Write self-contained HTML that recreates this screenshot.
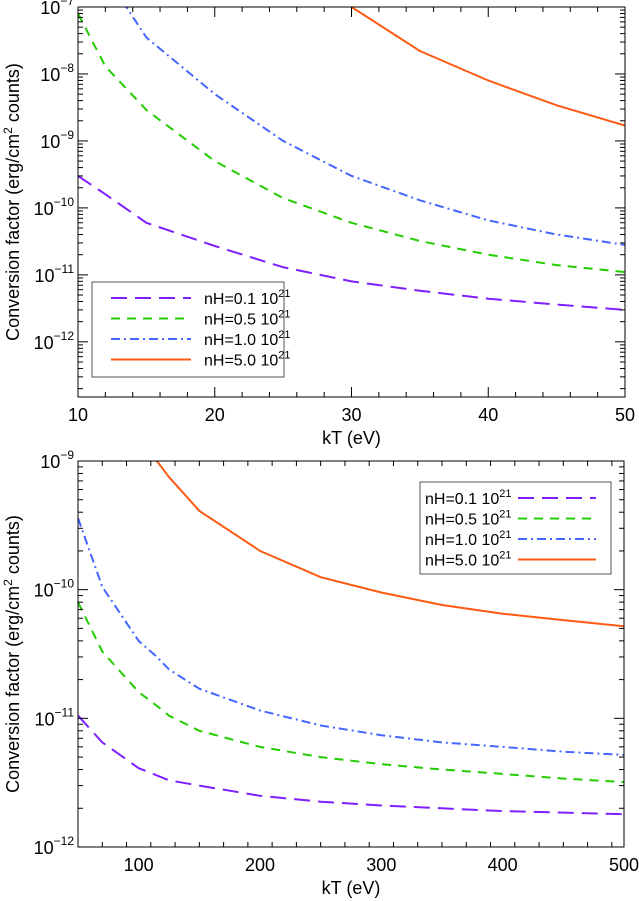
<!DOCTYPE html>
<html><head><meta charset="utf-8"><style>
html,body{margin:0;padding:0;background:#fff;}
svg{display:block;font-family:"Liberation Sans",sans-serif;}
</style></head><body>
<svg id="svg" width="639" height="901" viewBox="0 0 639 901"></svg>
<script>
const topX=[10,12,15,20,25,30,35,40,45,50];
const topP=[3e-10,1.6e-10,6e-11,2.7e-11,1.3e-11,8e-12,5.8e-12,4.4e-12,3.6e-12,3.0e-12];
const topG=[8e-8,1.3e-8,2.9e-9,5e-10,1.4e-10,6e-11,3.2e-11,2e-11,1.4e-11,1.1e-11];
const topB=[1e-6,3e-7,3.5e-8,5e-9,1e-9,3e-10,1.3e-10,6.5e-11,4e-11,2.8e-11];
const topO=[null,null,null,null,null,1e-7,2.2e-8,8e-9,3.4e-9,1.7e-9];
const botX=[50,70,100,115,125,150,200,250,300,350,400,450,500];
const botP=[1.05e-11,6.5e-12,4.1e-12,3.6e-12,3.3e-12,3e-12,2.5e-12,2.25e-12,2.1e-12,2e-12,1.9e-12,1.85e-12,1.8e-12];
const botG=[8e-11,3.3e-11,1.6e-11,1.25e-11,1.05e-11,8e-12,6e-12,5e-12,4.4e-12,4e-12,3.7e-12,3.4e-12,3.2e-12];
const botB=[3.6e-10,1.05e-10,4e-11,3e-11,2.4e-11,1.7e-11,1.15e-11,8.8e-12,7.4e-12,6.5e-12,6e-12,5.5e-12,5.2e-12];
const botO=[null,null,null,1e-9,7.5e-10,4.1e-10,2e-10,1.25e-10,9.5e-11,7.6e-11,6.5e-11,5.8e-11,5.2e-11];
const topXTicks=[10,20,30,40,50];
const botXTicks=[100,200,300,400,500];
const legendLabels=["nH=0.1 10","nH=0.5 10","nH=1.0 10","nH=5.0 10"];

const NS="http://www.w3.org/2000/svg";
const svg=document.getElementById('svg');
function mk(tag,attrs,parent){const e=document.createElementNS(NS,tag);for(const k in attrs)e.setAttribute(k,attrs[k]);(parent||svg).appendChild(e);return e;}
const styles=[
 {c:"#7f1fff",d:"16,8"},
 {c:"#22cc00",d:"9,7"},
 {c:"#4466ff",d:"9,4,2,4"},
 {c:"#ff5a14",d:""}];

function plot(id,L,R,T,B,xmin,xmax,ymin,ymax,xTicks,xMinorStep,xs,series,legend){
 const g=mk('g',{});
 
 
 const X=v=>L+(v-xmin)/(xmax-xmin)*(R-L);
 const Y=v=>T+(Math.log10(ymax)-Math.log10(v))/(Math.log10(ymax)-Math.log10(ymin))*(B-T);
 const clipId=id+'-clip';
 const cp=mk('clipPath',{id:clipId},g);mk('rect',{x:L,y:T,width:R-L,height:B-T},cp);
 series.forEach((s,i)=>{
  let d='';let started=false;
  xs.forEach((x,j)=>{const v=s[j];if(v==null)return;d+=(started?'L':'M')+X(x).toFixed(1)+','+Y(v).toFixed(1);started=true;});
  const p=mk('path',{d:d,fill:'none',stroke:styles[i].c,'stroke-width':2,'stroke-dasharray':styles[i].d,'clip-path':'url(#'+clipId+')'},g);
  
  
 });
 const fr=mk('rect',{x:L,y:T,width:R-L,height:B-T,fill:'none',stroke:'#000','stroke-width':1},g);
 
 
 for(let v=xmin;v<=xmax+1e-9;v+=xMinorStep){
  const major=xTicks.includes(Math.round(v));
  const len=major?10:5;const x=X(v);
  mk('line',{x1:x,y1:B,x2:x,y2:B-len,stroke:'#000'},g);
  mk('line',{x1:x,y1:T,x2:x,y2:T+len,stroke:'#000'},g);
 }
 xTicks.forEach(v=>{const t=mk('text',{x:X(v),y:B+24,'text-anchor':'middle','font-size':18},g);t.textContent=v;
  });
 const e0=Math.floor(Math.log10(ymin)),e1=Math.ceil(Math.log10(ymax));
 for(let e=e0;e<=e1;e++){for(let m=1;m<10;m++){const v=m*Math.pow(10,e);if(v<ymin*0.999||v>ymax*1.001)continue;
  const y=Y(v);const len=m==1?10:5;
  mk('line',{x1:L,y1:y,x2:L+len,y2:y,stroke:'#000'},g);
  mk('line',{x1:R,y1:y,x2:R-len,y2:y,stroke:'#000'},g);
  if(m==1){const t=mk('text',{x:L-4,y:y+7,'text-anchor':'end','font-size':18},g);
   
   t.textContent='10';const s=mk('tspan',{dy:-9,'font-size':12},t);s.textContent='\u2212'+(-e);}
 }}
 const xt=mk('text',{x:(L+R)/2,y:B+47,'text-anchor':'middle','font-size':18},g);xt.textContent='kT (eV)';
 
 const cy=(T+B)/2;
 const yt=mk('text',{x:0,y:0,'text-anchor':'middle','font-size':18,transform:'translate(19,'+cy+') rotate(-90)'},g);
 
 yt.textContent='Conversion factor (erg/cm';const s2=mk('tspan',{dy:-7,'font-size':12},yt);s2.textContent='2';
 const s3=mk('tspan',{dy:7},yt);s3.textContent=' counts)';
 const lg=mk('g',{},g);
 
 mk('rect',{x:legend.x,y:legend.y,width:legend.w,height:legend.h,fill:'#fff',stroke:'#555','stroke-width':1},lg);
 legendLabels.forEach((lab,i)=>{
  const y=legend.y+16+i*20.5;
  const ln=mk('line',{x1:legend.lx1,y1:y,x2:legend.lx2,y2:y,stroke:styles[i].c,'stroke-width':2,'stroke-dasharray':styles[i].d},lg);
  
  const t=mk('text',{x:legend.tx,y:y+6,'font-size':16},lg);t.textContent=lab;
  
  const sp=mk('tspan',{dy:-7,'font-size':11},t);sp.textContent='21';
 });
}
plot('top-chart',78,625,7,397,10,50,1.5e-13,1e-7,topXTicks,2,topX,[topP,topG,topB,topO],
 {x:92,y:282,w:192,h:95,lx1:111,lx2:191,tx:204});
plot('bottom-chart',78,624,461,847,50,500,1e-12,1e-9,botXTicks,20,botX,[botP,botG,botB,botO],
 {x:420,y:482,w:191,h:92,lx1:518,lx2:596,tx:425});
</script>
</body></html>
